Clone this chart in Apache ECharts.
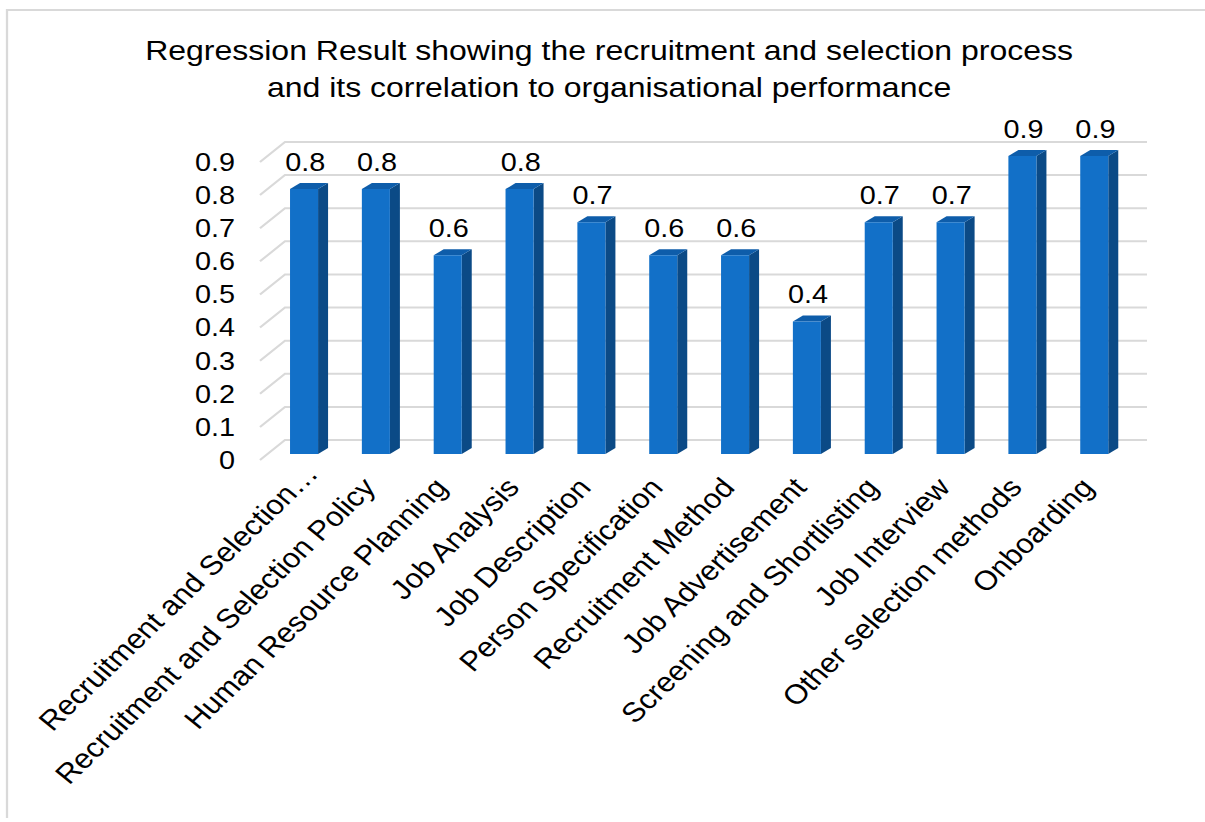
<!DOCTYPE html>
<html>
<head>
<meta charset="utf-8">
<script src="https://cdn.jsdelivr.net/npm/echarts@6/dist/echarts.min.js"></script>
<style>
  html, body { margin: 0; padding: 0; background: #ffffff; overflow: hidden; }
  #wrap { width: 1205px; height: 822px; overflow: hidden; position: relative; }
  #chart { width: 1066px; height: 822px; transform: scaleX(1.13039); transform-origin: 0 0; }
</style>
</head>
<body>
<div id="wrap"><div id="chart"></div></div>
<script>
// ---- data ----
const categories = [
  'Recruitment and Selection…',
  'Recruitment and Selection Policy',
  'Human Resource Planning',
  'Job Analysis',
  'Job Description',
  'Person Specification',
  'Recruitment Method',
  'Job Advertisement',
  'Screening and Shortlisting',
  'Job Interview',
  'Other selection methods',
  'Onboarding'
];
const values = [0.8, 0.8, 0.6, 0.8, 0.7, 0.6, 0.6, 0.4, 0.7, 0.7, 0.9, 0.9];
const yTicks = [0, 0.1, 0.2, 0.3, 0.4, 0.5, 0.6, 0.7, 0.8, 0.9];
const yTickLabels = ['0', '0.1', '0.2', '0.3', '0.4', '0.5', '0.6', '0.7', '0.8', '0.9'];
const titleText = 'Regression Result showing the recruitment and selection process\nand its correlation to organisational performance';

// ---- style constants (pre-stretch pixel space) ----
const FONT = '"Liberation Sans", Arial, sans-serif';
const GRID = { left: 230, right: 73.4, top: 162, bottom: 362 };
const BACK_DX = 22.1, BACK_DY = -20;      // back wall offset
const FACE_DX = 7.2, FACE_DY = -6;        // bar front face offset
const BAR_W = 24.8;
const DEPTH_DX = 8.85, DEPTH_DY = -6;      // bar depth
const C_FRONT = '#1270C8', C_SIDE = '#0B4A86', C_TOP = '#0E5DAA';
const C_GRID = '#D9D9D9';
const LABEL_SHIFT = 13.8;

const chart = echarts.init(document.getElementById('chart'), null, { renderer: 'svg' });

function gridRender(params, api) {
  const cs = params.coordSys;
  const v = api.value(0);
  const y = api.coord([0, v])[1];
  const x0 = cs.x, x1 = cs.x + cs.width;
  return {
    type: 'polyline',
    shape: { points: [[x0, y], [x0 + BACK_DX, y + BACK_DY], [x1 + BACK_DX, y + BACK_DY]] },
    style: { stroke: C_GRID, lineWidth: 2, fill: null },
    silent: true
  };
}

function barRender(params, api) {
  const i = api.value(0), v = api.value(1);
  const base = api.coord([i, 0]);
  const top = api.coord([i, v]);
  const cx = base[0] + FACE_DX;
  const x0 = cx - BAR_W / 2, x1 = cx + BAR_W / 2;
  const yt = top[1] + FACE_DY, yb = base[1] + FACE_DY;
  return {
    type: 'group',
    children: [
      { type: 'polygon', shape: { points: [[x1, yt], [x1 + DEPTH_DX, yt + DEPTH_DY], [x1 + DEPTH_DX, yb + DEPTH_DY], [x1, yb]] },
        style: { fill: C_SIDE } },
      { type: 'polygon', shape: { points: [[x0, yt], [x0 + DEPTH_DX, yt + DEPTH_DY], [x1 + DEPTH_DX, yt + DEPTH_DY], [x1, yt]] },
        style: { fill: C_TOP } },
      { type: 'rect', shape: { x: x0, y: yt, width: BAR_W, height: yb - yt },
        style: { fill: C_FRONT } },
      { type: 'text', x: cx + 1, y: yt - 27,
        style: { text: v.toFixed(1), fill: '#000', font: '25.5px ' + FONT, align: 'center', verticalAlign: 'middle' } }
    ]
  };
}

const option = {
  backgroundColor: '#ffffff',
  animation: false,
  graphic: [
    { type: 'polyline', silent: true, z: -10,
      shape: { points: [[6.2, 818], [6.2, 10], [1100, 10]] },
      style: { fill: null, stroke: '#D9D9D9', lineWidth: 2 } },
    { type: 'text', silent: true, x: 538.8, y: 31.5,
      style: { text: titleText, font: '28.3px ' + FONT, fill: '#000000', align: 'center', verticalAlign: 'top', lineHeight: 37 } }
  ],
  grid: [
    { left: GRID.left, right: GRID.right, top: GRID.top, bottom: GRID.bottom },
    { left: GRID.left + LABEL_SHIFT, right: GRID.right - LABEL_SHIFT, top: GRID.top, bottom: GRID.bottom }
  ],
  xAxis: [
    { type: 'category', gridIndex: 0, data: categories, boundaryGap: true,
      axisLine: { show: false }, axisTick: { show: false }, axisLabel: { show: false }, splitLine: { show: false } },
    { type: 'category', gridIndex: 1, data: categories, boundaryGap: true,
      axisLine: { show: false }, axisTick: { show: false }, splitLine: { show: false },
      axisLabel: { show: true, interval: 0, rotate: 47.5, margin: 8, color: '#000', fontFamily: FONT, fontSize: 27.5,
        formatter: function (v, idx) { return idx === 0 ? '{q|' + v + '}' : '{p|' + v + '}'; },
        rich: {
          p: { fontFamily: FONT, fontSize: 27.5, color: '#000', padding: [0, 19, 0, 0] },
          q: { fontFamily: FONT, fontSize: 27.5, color: '#000' }
        } } }
  ],
  yAxis: [
    { type: 'value', gridIndex: 0, min: 0, max: 0.9, interval: 0.1,
      axisLine: { show: false }, axisTick: { show: false }, splitLine: { show: false },
      axisLabel: { margin: 22, color: '#000', fontFamily: FONT, fontSize: 25.5,
        formatter: function (v) { return yTickLabels[Math.round(v * 10)]; } } },
    { type: 'value', gridIndex: 1, min: 0, max: 0.9, interval: 0.1, show: false }
  ],
  series: [
    { type: 'custom', xAxisIndex: 0, yAxisIndex: 0, renderItem: gridRender,
      data: yTicks.map(function (t) { return [t]; }), encode: { y: 0 }, z: 1, silent: true },
    { type: 'custom', xAxisIndex: 0, yAxisIndex: 0, renderItem: barRender,
      data: values.map(function (v, i) { return [i, v]; }), encode: { x: 0, y: 1 }, z: 2 }
  ]
};
chart.setOption(option);
</script>
</body>
</html>
